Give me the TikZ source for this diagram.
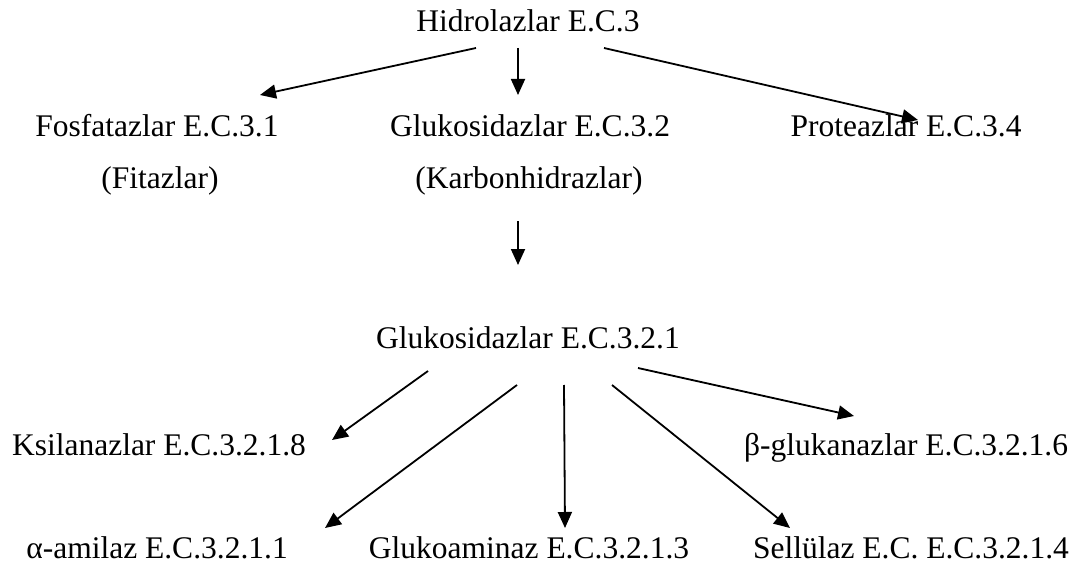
\documentclass[tikz,border=0pt]{standalone}
\usepackage{fontspec}
\setmainfont{Liberation Serif}
\usetikzlibrary{arrows.meta}

\begin{document}
\begin{tikzpicture}[x=1pt,y=-1pt,
    lbl/.style={anchor=base,inner sep=0pt,font=\fontsize{31.5}{38}\selectfont},
    arr/.style={-{Triangle[length=16pt,width=14pt]},line width=1.8pt}]
    \useasboundingbox (0,0) rectangle (1085,567);

    % Text Node
    \node[lbl] (hid) at (528,32) {Hidrolazlar E.C.3};
    % Text Node
    \node[lbl] (fos) at (157,137) {Fosfatazlar E.C.3.1};
    \node[lbl] (fit) at (160,189) {(Fitazlar)};
    % Text Node
    \node[lbl] (glk) at (530,137) {Glukosidazlar E.C.3.2};
    \node[lbl] (kar) at (529,189) {(Karbonhidrazlar)};
    % Text Node
    \node[lbl] (pro) at (906,137) {Proteazlar E.C.3.4};
    % Text Node
    \node[lbl] (glkb) at (528,348) {Glukosidazlar E.C.3.2.1};
    % Text Node
    \node[lbl] (ksi) at (159,455) {Ksilanazlar E.C.3.2.1.8};
    \node[lbl] (bglu) at (906,455) {β-glukanazlar E.C.3.2.1.6};
    % Text Node
    \node[lbl] (amil) at (157,558) {α-amilaz E.C.3.2.1.1};
    \node[lbl] (gam) at (529,558) {Glukoaminaz E.C.3.2.1.3};
    \node[lbl] (sel) at (911,558) {Sellülaz E.C. E.C.3.2.1.4};

    %Arrow ends
    \coordinate (h1) at (476,48);  \coordinate (t1) at (260,95);
    \coordinate (h2) at (518,48);  \coordinate (t2) at (518,95);
    \coordinate (h3) at (604,48);  \coordinate (t3) at (918,120);
    \coordinate (k1) at (518,221); \coordinate (k2) at (518,265);
    \coordinate (g1) at (428,371); \coordinate (u1) at (332,440);
    \coordinate (g2) at (517,385); \coordinate (u2) at (325,528);
    \coordinate (g3) at (564,385); \coordinate (u3) at (565,528);
    \coordinate (g4) at (612,385); \coordinate (u4) at (790,528);
    \coordinate (g5) at (638,368); \coordinate (u5) at (854,416);

    %Straight Lines
    \draw[arr] (h1) -- (t1);
    \draw[arr] (h2) -- (t2);
    \draw[arr] (h3) -- (t3);
    \draw[arr] (k1) -- (k2);
    %Straight Lines
    \draw[arr] (g1) -- (u1);
    \draw[arr] (g2) -- (u2);
    \draw[arr] (g3) -- (u3);
    \draw[arr] (g4) -- (u4);
    \draw[arr] (g5) -- (u5);

\end{tikzpicture}
\end{document}
